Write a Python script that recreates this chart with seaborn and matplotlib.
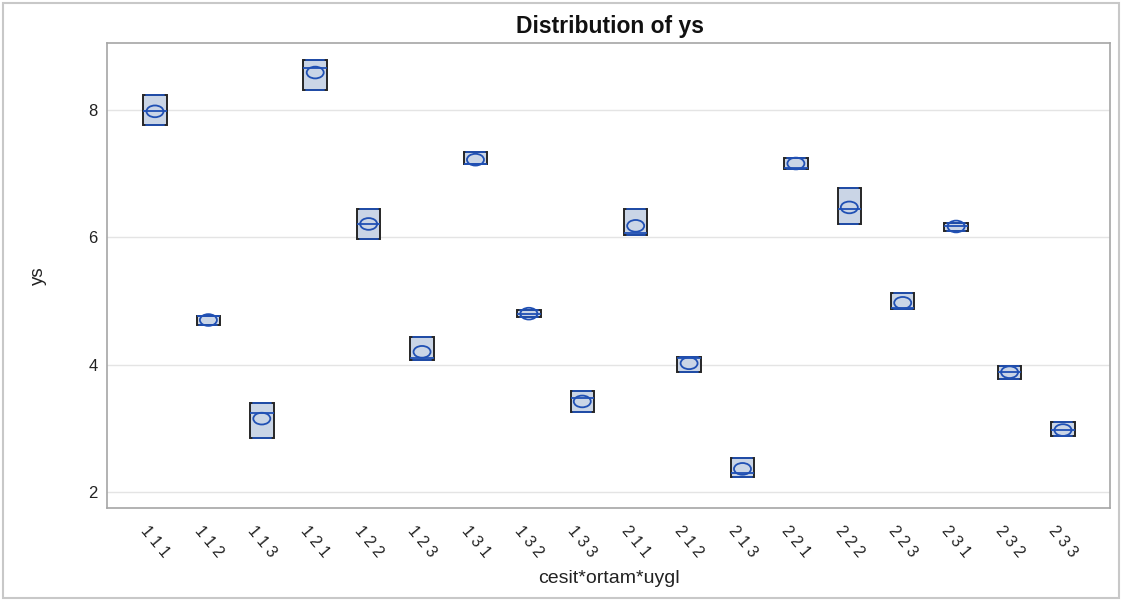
import numpy as np
import pandas as pd
import matplotlib
matplotlib.use("Agg")
import matplotlib.pyplot as plt
import seaborn as sns
from matplotlib.path import Path
from matplotlib.patches import Rectangle
import matplotlib.transforms as mtransforms

# cesit*ortam*uygl combinations
groups = ["1 1 1", "1 1 2", "1 1 3", "1 2 1", "1 2 2", "1 2 3",
          "1 3 1", "1 3 2", "1 3 3", "2 1 1", "2 1 2", "2 1 3",
          "2 2 1", "2 2 2", "2 2 3", "2 3 1", "2 3 2", "2 3 3"]

# per-group summary of ys: minimum, median, maximum and mean
lows = [7.76, 4.62, 2.84, 8.31, 5.97, 4.07, 7.15, 4.75, 3.25,
        6.04, 3.88, 2.23, 7.08, 6.21, 4.87, 6.10, 3.77, 2.87]
medians = [7.98, 4.76, 3.24, 8.66, 6.21, 4.10, 7.16, 4.80, 3.47,
           6.06, 4.10, 2.29, 7.09, 6.45, 4.89, 6.17, 3.88, 2.97]
highs = [8.23, 4.77, 3.40, 8.79, 6.44, 4.44, 7.34, 4.85, 3.59,
         6.45, 4.12, 2.53, 7.24, 6.77, 5.12, 6.23, 3.98, 3.10]
means = [7.98, 4.70, 3.15, 8.59, 6.21, 4.20, 7.22, 4.80, 3.42,
         6.18, 4.02, 2.36, 7.16, 6.47, 4.97, 6.17, 3.88, 2.97]

# Box = min..max with the median inside (quartiles land on min/max)
rows = []
for g, lo, md, hi in zip(groups, lows, medians, highs):
    for v in (lo, lo, md, hi, hi):
        rows.append({"cesit*ortam*uygl": g, "ys": v})
df = pd.DataFrame(rows)
mean_df = pd.DataFrame({"cesit*ortam*uygl": groups, "ys": means})

sns.set_style("white")
plt.rcParams["font.family"] = ["Liberation Sans", "DejaVu Sans"]

BOX_FILL = "#CAD5E6"
BOX_EDGE = "#262626"
BLUE = "#2050B4"
AXIS_GRAY = "#A6A6A6"

fig = plt.figure(figsize=(11.24, 6.01), dpi=100)
ax = fig.add_axes([0.0956, 0.1542, 0.8919, 0.7738])

sns.boxplot(data=df, x="cesit*ortam*uygl", y="ys", order=groups,
            width=0.44, color=BOX_FILL, saturation=1, linecolor=BOX_EDGE,
            linewidth=1.4, showcaps=True, showfliers=False, whis=1.5,
            capwidths=0.34,
            capprops=dict(color=BLUE, linewidth=1.3),
            medianprops=dict(color=BLUE, linewidth=1.3), ax=ax, zorder=3)

# mean marker: a slightly wide open ellipse
ellipse = Path.unit_circle().transformed(mtransforms.Affine2D().scale(1.45, 1.0))
sns.scatterplot(data=mean_df, x="cesit*ortam*uygl", y="ys", marker=ellipse,
                s=150, facecolors="none", edgecolor=BLUE, linewidth=1.3,
                ax=ax, zorder=4, legend=False)

ax.set_xlim(-0.89, 17.88)
ax.set_ylim(1.74, 9.05)
ax.set_yticks([2, 4, 6, 8])
ax.yaxis.grid(True, color="#E4E4E4", linewidth=1.0, zorder=0)
ax.set_axisbelow(True)

for sp in ax.spines.values():
    sp.set_visible(True)
    sp.set_color(AXIS_GRAY)
    sp.set_linewidth(1.2)

ax.tick_params(axis="both", direction="out", length=5, width=1,
               color=AXIS_GRAY, labelsize=11.5, labelcolor="#222222")
ax.tick_params(axis="y", pad=2, labelsize=12)
ax.tick_params(axis="x", pad=6)
plt.setp(ax.get_xticklabels(), rotation=-50, ha="center", va="top")

ax.set_xlabel("cesit*ortam*uygl", fontsize=14, color="#222222")
ax.set_ylabel("ys", fontsize=13.5, color="#222222")
ax.xaxis.set_label_coords(0.5, -0.133)
ax.yaxis.set_label_coords(-0.06, 0.5)

fig.text(0.5425, 0.956, "Distribution of ys", ha="center", va="center",
         fontsize=16.5, fontweight="bold", color="#111111")

# light frame round the whole graphic
fig.patches.append(Rectangle((0.0027, 0.005), 0.993, 0.99,
                             transform=fig.transFigure, fill=False,
                             edgecolor="#C8C8C8", linewidth=1.5))

fig.savefig("out.png", dpi=100)
